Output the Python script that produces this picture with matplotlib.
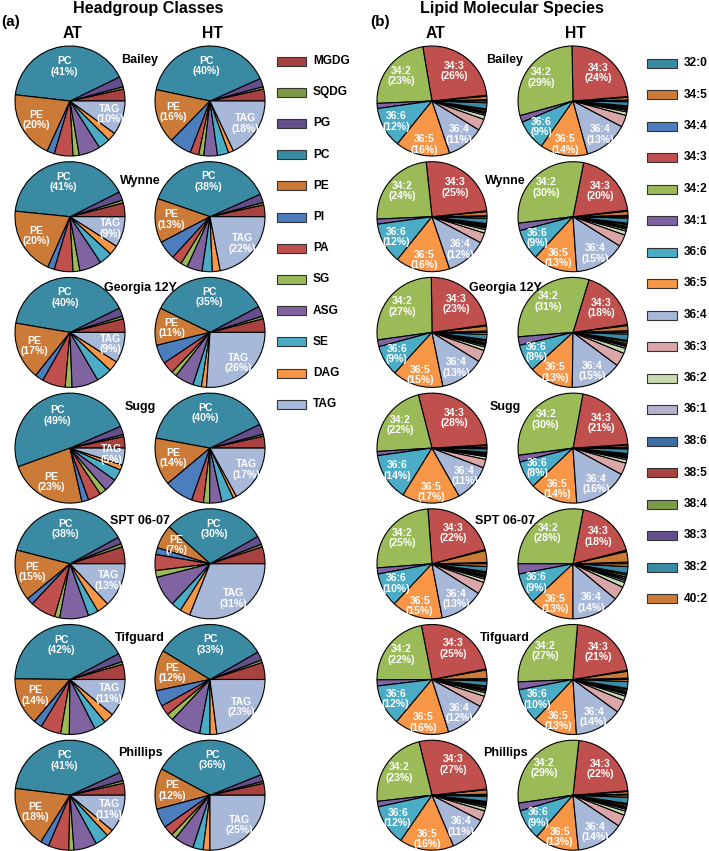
import matplotlib
matplotlib.use('Agg')
import matplotlib.pyplot as plt
import numpy as np
from matplotlib.patches import Rectangle

W, H = 709, 851
plt.rcParams['font.family'] = ['Liberation Sans', 'DejaVu Sans']

# ---------------- data ----------------
varieties = ['Bailey', 'Wynne', 'Georgia 12Y', 'Sugg', 'SPT 06-07', 'Tifguard', 'Phillips']

classes = ['MGDG', 'SQDG', 'PG', 'PC', 'PE', 'PI', 'PA', 'SG', 'ASG', 'SE', 'DAG', 'TAG']
class_colors = ['#a84240', '#7d9b46', '#644e8c', '#3a8aa3', '#cc7a38', '#4c7ebe',
                '#c0504d', '#9bbb59', '#8064a2', '#4bacc6', '#f79646', '#a8b8d8']

# headgroup class composition (%), order as in `classes`
hg_bailey_at   = [3.5, 0.7, 3.0, 41, 20, 2.2, 5.5, 1.8, 6.3, 3.5, 2.5, 10]
hg_bailey_ht   = [3.5, 0.7, 2.5, 40, 16, 6.5, 2.5, 1.5, 4.0, 3.3, 1.5, 18]
hg_wynne_at    = [4.0, 0.9, 2.5, 41, 20, 2.0, 5.5, 2.0, 6.5, 3.8, 2.8, 9]
hg_wynne_ht    = [3.5, 0.7, 2.5, 38, 13, 5.5, 3.0, 2.0, 4.5, 3.0, 2.3, 22]
hg_georgia_at  = [4.0, 0.8, 2.5, 40, 17, 2.5, 6.8, 2.0, 7.8, 4.6, 3.0, 9]
hg_georgia_ht  = [4.0, 0.8, 3.0, 35, 11, 5.6, 3.5, 1.5, 5.6, 2.5, 1.5, 26]
hg_sugg_at     = [3.4, 0.6, 2.5, 49, 23, 2.0, 3.8, 2.0, 3.8, 3.4, 1.5, 5]
hg_sugg_ht     = [3.5, 0.6, 3.0, 40, 14, 8.5, 3.5, 1.8, 3.6, 3.5, 1.0, 17]
hg_spt_at      = [5.0, 1.0, 2.0, 38, 15, 2.0, 7.5, 1.5, 8.5, 3.0, 3.5, 13]
hg_spt_ht      = [5.0, 0.8, 2.5, 30, 7, 2.0, 4.7, 2.0, 9.0, 3.0, 3.0, 31]
hg_tifguard_at = [4.5, 0.8, 2.5, 42, 14, 2.5, 6.0, 2.5, 7.7, 3.5, 3.0, 11]
hg_tifguard_ht = [5.0, 0.8, 2.5, 33, 12, 4.7, 3.0, 2.0, 9.0, 3.0, 2.0, 23]
hg_phillips_at = [3.5, 0.8, 2.5, 41, 18, 2.5, 6.0, 1.5, 6.7, 4.0, 2.0, 11]
hg_phillips_ht = [3.5, 0.6, 2.0, 36, 12, 5.7, 3.0, 1.5, 5.7, 3.0, 2.0, 25]

species = ['32:0', '34:5', '34:4', '34:3', '34:2', '34:1', '36:6', '36:5', '36:4',
           '36:3', '36:2', '36:1', '38:6', '38:5', '38:4', '38:3', '38:2', '40:2']
species_colors = ['#3a8aa3', '#cc7a38', '#4c7ebe', '#c0504d', '#9bbb59', '#8064a2',
                  '#4bacc6', '#f79646', '#a8b8d8', '#daa6a8', '#c8daaf', '#b9b0d0',
                  '#3e6ca5', '#a84240', '#7d9b46', '#644e8c', '#3a8aa3', '#cc7a38']

# lipid molecular species composition (%), order as in `species`
sp_bailey_at   = [0.4, 1.0, 0.3, 26, 23, 1.5, 12, 16, 11, 3.4, 1.2, 0.5, 0.3, 0.3, 0.5, 0.3, 1.8, 0.5]
sp_bailey_ht   = [0.3, 0.8, 0.2, 24, 29, 2.0, 9, 14, 13, 3.5, 1.0, 0.5, 0.3, 0.3, 0.4, 0.3, 1.2, 0.2]
sp_wynne_at    = [0.3, 1.2, 0.2, 25, 24, 1.5, 12, 16, 12, 3.0, 1.0, 0.5, 0.3, 0.3, 0.4, 0.3, 1.5, 0.5]
sp_wynne_ht    = [0.4, 1.2, 0.3, 20, 30, 2.2, 9, 13, 15, 3.5, 1.2, 0.6, 0.4, 0.4, 0.5, 0.4, 1.5, 0.4]
sp_georgia_at  = [0.4, 1.5, 0.3, 23, 27, 2.0, 9, 15, 13, 3.5, 1.0, 0.5, 0.4, 0.4, 0.5, 0.4, 1.5, 0.6]
sp_georgia_ht  = [0.5, 1.5, 0.3, 18, 31, 2.5, 8, 13, 15, 4.0, 1.5, 0.6, 0.4, 0.4, 0.6, 0.4, 1.8, 0.5]
sp_sugg_at     = [0.3, 0.5, 0.2, 28, 22, 1.2, 14, 17, 11, 2.5, 0.8, 0.4, 0.2, 0.2, 0.3, 0.2, 1.0, 0.2]
sp_sugg_ht     = [0.3, 0.6, 0.2, 21, 30, 2.0, 8, 14, 16, 3.5, 1.0, 0.5, 0.3, 0.3, 0.4, 0.3, 1.4, 0.2]
sp_spt_at      = [0.4, 3.5, 0.3, 22, 25, 1.8, 10, 15, 13, 3.5, 1.0, 0.5, 0.4, 0.4, 0.5, 0.4, 1.5, 0.8]
sp_spt_ht      = [0.5, 3.1, 0.4, 18, 28, 3.0, 9, 13, 14, 4.0, 1.5, 0.6, 0.5, 0.5, 0.6, 0.5, 2.0, 0.8]
sp_tifguard_at = [0.3, 2.5, 0.3, 25, 22, 1.8, 12, 16, 12, 3.2, 1.0, 0.5, 0.3, 0.4, 0.5, 0.3, 1.5, 0.4]
sp_tifguard_ht = [0.4, 2.0, 0.3, 21, 27, 2.3, 10, 13, 14, 3.8, 1.3, 0.6, 0.4, 0.4, 0.5, 0.4, 2.0, 0.6]
sp_phillips_at = [0.3, 1.3, 0.2, 27, 23, 1.6, 12, 16, 11, 3.0, 1.0, 0.5, 0.3, 0.3, 0.4, 0.3, 1.5, 0.3]
sp_phillips_ht = [0.3, 0.8, 0.2, 22, 29, 2.3, 9, 13, 14, 3.5, 1.2, 0.6, 0.4, 0.4, 0.5, 0.4, 1.8, 0.6]

hg_at = [hg_bailey_at, hg_wynne_at, hg_georgia_at, hg_sugg_at, hg_spt_at, hg_tifguard_at, hg_phillips_at]
hg_ht = [hg_bailey_ht, hg_wynne_ht, hg_georgia_ht, hg_sugg_ht, hg_spt_ht, hg_tifguard_ht, hg_phillips_ht]
sp_at = [sp_bailey_at, sp_wynne_at, sp_georgia_at, sp_sugg_at, sp_spt_at, sp_tifguard_at, sp_phillips_at]
sp_ht = [sp_bailey_ht, sp_wynne_ht, sp_georgia_ht, sp_sugg_ht, sp_spt_ht, sp_tifguard_ht, sp_phillips_ht]

# ---------------- layout ----------------
R = 55.0
row_y = [101 + i * 115.7 for i in range(7)]
label_y = [60, 181, 288, 407, 521, 638, 753]

hg_label_r = {'PC': 0.64, 'PE': 0.70, 'TAG': 0.76}
sp_label_r = {'34:3': 0.68, '34:2': 0.72, '36:6': 0.75, '36:5': 0.80, '36:4': 0.78}

fig = plt.figure(figsize=(W / 100, H / 100), dpi=100)
ax = fig.add_axes([0, 0, 1, 1])


def Y(y):
    return H - y


def draw_pie(values, colors, names, cx, cy, label_r):
    wedges, _ = ax.pie(values, colors=colors, center=(cx, Y(cy)), radius=R,
                       startangle=0, counterclock=True,
                       wedgeprops=dict(edgecolor='black', linewidth=0.8))
    total = float(sum(values))
    for w, name, v in zip(wedges, names, values):
        if name in label_r:
            th = np.deg2rad((w.theta1 + w.theta2) / 2.0)
            r = label_r[name] * R
            ax.text(cx + r * np.cos(th), Y(cy) + r * np.sin(th),
                    f"{name}\n({100 * v / total:.0f}%)", color='white',
                    fontsize=7.5, fontweight='bold', ha='center', va='center',
                    linespacing=1.05)


for i in range(7):
    draw_pie(hg_at[i], class_colors, classes, 70, row_y[i], hg_label_r)
    draw_pie(hg_ht[i], class_colors, classes, 210, row_y[i], hg_label_r)
    draw_pie(sp_at[i], species_colors, species, 432, row_y[i], sp_label_r)
    draw_pie(sp_ht[i], species_colors, species, 573, row_y[i], sp_label_r)
    ax.text(140, Y(label_y[i]), varieties[i], fontsize=9, fontweight='bold',
            ha='center', va='center')
    ax.text(505, Y(label_y[i]), varieties[i], fontsize=9, fontweight='bold',
            ha='center', va='center')

# titles
ax.text(148, Y(9), 'Headgroup Classes', fontsize=11.6, fontweight='bold', ha='center', va='center')
ax.text(512, Y(9), 'Lipid Molecular Species', fontsize=11.6, fontweight='bold', ha='center', va='center')
ax.text(1, Y(22), '(a)', fontsize=11, fontweight='bold', ha='left', va='center')
ax.text(370, Y(22), '(b)', fontsize=11, fontweight='bold', ha='left', va='center')
for x in (72, 435):
    ax.text(x, Y(33), 'AT', fontsize=11.3, fontweight='bold', ha='center', va='center')
for x in (212, 575):
    ax.text(x, Y(33), 'HT', fontsize=11.3, fontweight='bold', ha='center', va='center')

# legends
for i, (name, col) in enumerate(zip(classes, class_colors)):
    y = 61 + i * 31.2
    ax.add_patch(Rectangle((277, Y(y) - 4.5), 29, 9, facecolor=col, edgecolor='#333333', linewidth=0.8))
    ax.text(313, Y(y), name, fontsize=8.6, fontweight='bold', ha='left', va='center')

for i, (name, col) in enumerate(zip(species, species_colors)):
    y = 63 + i * 31.5
    ax.add_patch(Rectangle((647, Y(y) - 4.5), 30, 9, facecolor=col, edgecolor='#333333', linewidth=0.8))
    ax.text(684, Y(y), name, fontsize=8.6, fontweight='bold', ha='left', va='center')

ax.set_xlim(0, W)
ax.set_ylim(0, H)
ax.set_aspect('equal')
ax.axis('off')

fig.savefig('out.png', dpi=100)
